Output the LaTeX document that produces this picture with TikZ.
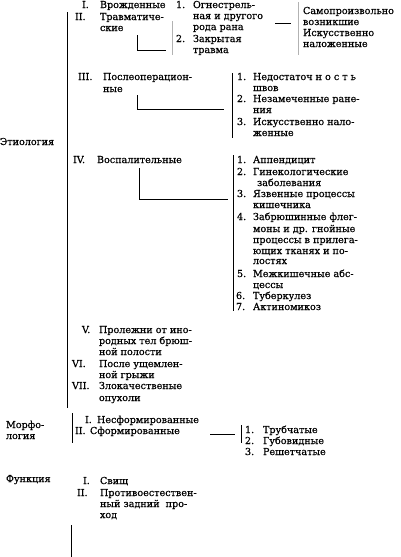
\documentclass[tikz,border=0pt]{standalone}
\usepackage{fontspec}
\setmainfont{DejaVu Serif}[FakeBold=0.5]
\tikzset{
  lbl/.style={anchor=base west, inner sep=0pt, outer sep=0pt, font=\fontsize{9.6}{11}\selectfont},
  rule/.style={line width=0.8pt},
  faint/.style={line width=0.4pt, black!30}
}
\newcommand\T[4]{\node[lbl] (#1) at (#2,#3) {#4};}
\begin{document}
\begin{tikzpicture}[x=1pt,y=-1pt]
\useasboundingbox (0,0) rectangle (400,557);
\fill[white] (0,0) rectangle (400,557);
% ---- section titles
\T{etio}{0}{145}{Этиология}
\T{morf1}{6}{428}{Морфо-}
\T{morf2}{6}{439}{логия}
\T{func}{6}{482}{Функция}
% ---- main lines
\coordinate (m1) at (67,12); \coordinate (m2) at (67,408);
\draw[rule] (m1) -- (m2);
\coordinate (mo1) at (72,413); \coordinate (mo2) at (72,443);
\draw[rule] (mo1) -- (mo2);
\coordinate (f1) at (71,525); \coordinate (f2) at (71,557);
\draw[rule] (f1) -- (f2);
% ---- I, II
\T{r1n}{82}{8}{I.}
\T{r1}{100}{8}{Врожденные}
\T{r2n}{75}{20}{II.}
\T{r2}{100}{20}{Травматиче-}
\T{r2b}{100}{31}{ские}
\coordinate (b1a) at (137,35); \coordinate (b1b) at (137,50); \coordinate (b1c) at (166,50);
\draw[rule] (b1a) -- (b1b) -- (b1c);
\coordinate (fa1) at (172,21); \coordinate (fa2) at (172,55);
\draw[faint] (fa1) -- (fa2);
\T{s1n}{176}{8}{1.}
\T{s1}{193}{8}{Огнестрель-}
\T{s1b}{193}{19}{ная и другого}
\T{s1c}{193}{30}{рода рана}
\T{s2n}{176}{42}{2.}
\T{s2}{193}{42}{Закрытая}
\T{s2b}{193}{53}{травма}
\coordinate (h1a) at (275,23); \coordinate (h1b) at (291,23);
\draw[rule] (h1a) -- (h1b);
\coordinate (fb1) at (298,2); \coordinate (fb2) at (298,55);
\draw[faint] (fb1) -- (fb2);
\T{q1}{303}{14}{Самопроизвольно}
\T{q2}{303}{25}{возникшие}
\T{q3}{303}{36}{Искусственно}
\T{q4}{303}{47}{наложенные}
% ---- III
\T{r3n}{78}{80}{III.}
\T{r3}{103}{80}{Послеоперацион-}
\T{r3b}{103}{92}{ные}
\coordinate (b3a) at (137,95); \coordinate (b3b) at (137,109); \coordinate (b3c) at (224,109);
\draw[rule] (b3a) -- (b3b) -- (b3c);
\coordinate (v3a) at (232,73); \coordinate (v3b) at (232,138);
\draw[rule] (v3a) -- (v3b);
\T{p1n}{237}{80}{1.}
\T{p1}{253}{80}{Недостаточ н о с т ь}
\T{p1b}{253}{91}{швов}
\T{p2n}{237}{102}{2.}
\T{p2}{253}{102}{Незамеченные ране-}
\T{p2b}{253}{113}{ния}
\T{p3n}{237}{125}{3.}
\T{p3}{253}{125}{Искусственно нало-}
\T{p3b}{253}{136}{женные}
% ---- IV
\T{r4n}{73}{163}{IV.}
\T{r4}{97}{163}{Воспалительные}
\coordinate (b4a) at (139,168); \coordinate (b4b) at (139,199); \coordinate (b4c) at (228,199);
\draw[rule] (b4a) -- (b4b) -- (b4c);
\coordinate (v4a) at (233,155); \coordinate (v4b) at (233,311);
\draw[rule] (v4a) -- (v4b);
\T{i1n}{237}{163}{1.}
\T{i1}{253}{163}{Аппендицит}
\T{i2n}{237}{175}{2.}
\T{i2}{253}{175}{Гинекологические}
\T{i2b}{257}{186}{заболевания}
\T{i3n}{237}{197}{3.}
\T{i3}{253}{197}{Язвенные процессы}
\T{i3b}{253}{208}{кишечника}
\T{i4n}{237}{220}{4.}
\T{i4}{253}{220}{Забрюшинные флег-}
\T{i4b}{253}{232}{моны и др. гнойные}
\T{i4c}{253}{243}{процессы в прилега-}
\T{i4d}{253}{254}{ющих тканях и по-}
\T{i4e}{253}{264}{лостях}
\T{i5n}{237}{277}{5.}
\T{i5}{253}{277}{Межкишечные абс-}
\T{i5b}{253}{288}{цессы}
\T{i6n}{236}{299}{6.}
\T{i6}{253}{299}{Туберкулез}
\T{i7n}{236}{310}{7.}
\T{i7}{253}{310}{Актиномикоз}
% ---- V-VII
\T{r5n}{82}{333}{V.}
\T{r5}{99}{333}{Пролежни от ино-}
\T{r5b}{99}{344}{родных тел брюш-}
\T{r5c}{99}{355}{ной полости}
\T{r6n}{72}{367}{VI.}
\T{r6}{99}{367}{После ущемлен-}
\T{r6b}{99}{378}{ной грыжи}
\T{r7n}{72}{389}{VII.}
\T{r7}{99}{389}{Злокачественые}
\T{r7b}{99}{401}{опухоли}
% ---- morphology
\T{m1n}{85}{423}{I.}
\T{m1t}{97}{423}{Несформированные}
\T{m2n}{75}{434}{II.}
\T{m2t}{90}{434}{Сформированные}
\coordinate (hm1) at (210,434); \coordinate (hm2) at (235,434);
\draw[rule] (hm1) -- (hm2);
\coordinate (vm1) at (241,425); \coordinate (vm2) at (241,443);
\draw[rule] (vm1) -- (vm2);
\T{k1n}{245}{433}{1.}
\T{k1}{263}{433}{Трубчатые}
\T{k2n}{245}{444}{2.}
\T{k2}{263}{444}{Губовидные}
\T{k3n}{245}{455}{3.}
\T{k3}{263}{455}{Решетчатые}
% ---- function
\T{f1n}{83}{484}{I.}
\T{f1t}{100}{484}{Свищ}
\T{f2n}{77}{496}{II.}
\T{f2t}{100}{496}{Противоестествен-}
\T{f2b}{100}{507}{ный задний\ \ про-}
\T{f2c}{100}{518}{ход}
\end{tikzpicture}
\end{document}
